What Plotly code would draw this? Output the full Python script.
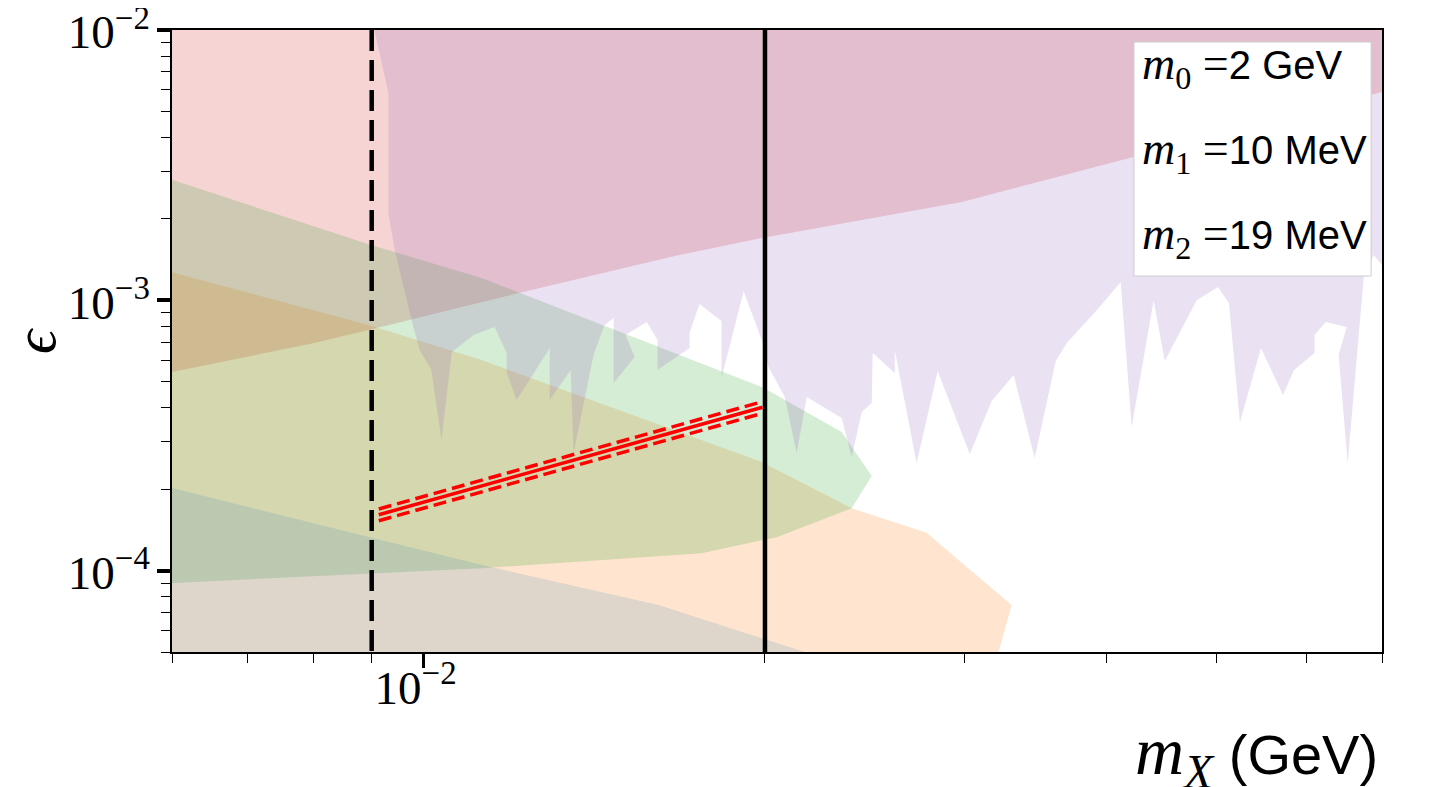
import math
import plotly.graph_objects as go

# ---------------- data (m_X in GeV, epsilon) ----------------
# red (pink) excluded region: lower boundary
red_x = [0.006, 0.00801, 0.00894, 0.01203, 0.01654, 0.01987, 0.02982, 0.04236, 0.07]
red_y = [5.43e-4, 6.95e-4, 7.77e-4, 1.055e-3, 1.45e-3, 1.70e-3, 2.31e-3, 3.39e-3, 5.90e-3]

# purple jagged region (closed outline)
purple_x = [0.00905, 0.00931, 0.00931, 0.00943, 0.00976, 0.00992, 0.01016, 0.01037, 0.01059, 0.01107,
            0.01155, 0.01184, 0.01184, 0.01208, 0.01292, 0.01292, 0.01348, 0.01356, 0.01412, 0.01444,
            0.01471, 0.01471, 0.01535, 0.01507, 0.01573, 0.01608, 0.01608, 0.01716, 0.01716, 0.01751,
            0.01831, 0.01831, 0.01915, 0.01987, 0.02015, 0.02082, 0.02133, 0.02177, 0.02337, 0.02385,
            0.02434, 0.02484, 0.02489, 0.02603, 0.02603, 0.02721, 0.02840, 0.03031, 0.03169, 0.03314,
            0.03458, 0.03609, 0.03691, 0.03938, 0.04118, 0.04211, 0.04403, 0.04503, 0.04805, 0.05017,
            0.05130, 0.05246, 0.05475, 0.05725, 0.05854, 0.06105, 0.06105, 0.06243, 0.06516, 0.06410,
            0.06529, 0.06744, 0.06883, 0.07, 0.07]
purple_y = [1e-2, 5.85e-3, 2.10e-3, 1.535e-3, 8.46e-4, 6.55e-4, 5.52e-4, 3.04e-4, 6.44e-4, 7.44e-4,
            7.97e-4, 6.38e-4, 5.38e-4, 4.28e-4, 6.66e-4, 4.28e-4, 5.52e-4, 2.72e-4, 6.28e-4, 8.10e-4,
            8.60e-4, 4.94e-4, 6.17e-4, 7.44e-4, 8.31e-4, 7.13e-4, 5.52e-4, 6.66e-4, 7.57e-4, 9.69e-4,
            8.39e-4, 5.16e-4, 1.08e-3, 7.13e-4, 5.67e-4, 4.39e-4, 2.72e-4, 4.39e-4, 3.67e-4, 2.63e-4,
            3.86e-4, 4.17e-4, 6.38e-4, 5.38e-4, 6.55e-4, 2.50e-4, 5.48e-4, 2.70e-4, 4.24e-4, 5.29e-4,
            2.61e-4, 5.96e-4, 6.95e-4, 9.37e-4, 1.17e-3, 3.40e-4, 1.00e-3, 5.96e-4, 1.00e-3, 1.12e-3,
            9.77e-4, 3.55e-4, 6.66e-4, 4.46e-4, 5.52e-4, 6.38e-4, 7.44e-4, 8.31e-4, 7.97e-4, 6.28e-4,
            2.50e-4, 1.21e-3, 1.47e-3, 1.35e-3, 1e-2]

# green lens-shaped region (upper edge left->right, lower edge right->left)
green_x = [0.006, 0.0090, 0.01125, 0.01474, 0.01987, 0.02337, 0.02484,
           0.02385, 0.02048, 0.01758, 0.01125, 0.006]
green_y = [2.79e-3, 1.60e-3, 1.21e-3, 7.77e-4, 4.78e-4, 3.26e-4, 2.24e-4,
           1.70e-4, 1.33e-4, 1.16e-4, 1.02e-4, 9.00e-5]

# orange region: upper boundary
orange_x = [0.006, 0.00894, 0.01125, 0.01987, 0.02385, 0.02777, 0.02982, 0.0330, 0.03214]
orange_y = [1.27e-3, 8.10e-4, 6.01e-4, 2.52e-4, 1.70e-4, 1.38e-4, 1.07e-4, 7.46e-5, 5.0e-5]

# bottom-left region: upper boundary
blue_x = [0.006, 0.0090, 0.01125, 0.01611, 0.02168]
blue_y = [2.02e-4, 1.33e-4, 1.05e-4, 7.46e-5, 5.0e-5]

# red prediction line with +-5% band
pred_x = [0.00913, 0.0199]
pred_y = [1.61e-4, 4.02e-4]
pred_hi = [1.69e-4, 4.22e-4]
pred_lo = [1.53e-4, 3.82e-4]

m_dashed = 0.009   # vertical dashed line
m_solid = 0.02     # vertical solid line

X_RANGE = [0.006, 0.07]
Y_RANGE = [5e-5, 1e-2]
FLOOR = 1e-5
CEIL = 2e-2

legend_lines = [("0", "2 GeV"), ("1", "10 MeV"), ("2", "19 MeV")]

# ---------------- figure ----------------
SERIF = "Liberation Serif, DejaVu Serif, serif"
SANS = "Liberation Sans, DejaVu Sans, sans-serif"

fig = go.Figure()


def region(xs, ys, color):
    fig.add_trace(go.Scatter(x=xs, y=ys, mode="lines", fill="toself", fillcolor=color,
                             line=dict(width=0, color=color), hoverinfo="skip", showlegend=False))


region(red_x + [X_RANGE[1], X_RANGE[0]], red_y + [CEIL, CEIL], "rgba(214,39,40,0.2)")
region(orange_x + [orange_x[-1], X_RANGE[0]], orange_y + [FLOOR, FLOOR], "rgba(255,127,14,0.2)")
region(green_x, green_y, "rgba(44,160,44,0.2)")
region(purple_x, purple_y, "rgba(148,103,189,0.2)")
region(blue_x + [blue_x[-1], X_RANGE[0]], blue_y + [FLOOR, FLOOR], "rgba(31,119,180,0.15)")

# vertical lines (drawn top -> bottom)
fig.add_trace(go.Scatter(x=[m_dashed, m_dashed], y=Y_RANGE[::-1], mode="lines",
                         line=dict(color="black", width=4.5, dash="21px,9px"),
                         hoverinfo="skip", showlegend=False))
fig.add_trace(go.Scatter(x=[m_solid, m_solid], y=Y_RANGE[::-1], mode="lines",
                         line=dict(color="black", width=4.5),
                         hoverinfo="skip", showlegend=False))

# red line and band
for ys, dash in ((pred_hi, "13px,6px"), (pred_lo, "13px,6px"), (pred_y, "solid")):
    fig.add_trace(go.Scatter(x=pred_x, y=ys, mode="lines",
                             line=dict(color="red", width=3.5, dash=dash),
                             hoverinfo="skip", showlegend=False))

x_minor = [0.006, 0.007, 0.008, 0.009, 0.02, 0.03, 0.04, 0.05, 0.06, 0.07]
y_minor = [m * 10 ** e for e in (-5, -4, -3) for m in range(2, 10) if 5e-5 <= m * 10 ** e < 1e-2]

axis_common = dict(
    type="log", showgrid=False, zeroline=False, showline=True, linecolor="black",
    linewidth=1.5, mirror=True, ticks="outside", tickcolor="black",
    ticklabeloverflow="allow", automargin=False,
    tickfont=dict(family=SERIF, size=47, color="black"),
)

fig.update_layout(
    width=1440, height=787,
    margin=dict(l=164, r=66, t=22, b=143),
    plot_bgcolor="white", paper_bgcolor="white",
    xaxis=dict(**axis_common,
               range=[math.log10(X_RANGE[0]), math.log10(X_RANGE[1])],
               tickvals=[0.01], ticktext=["10<sup>−2</sup>"], ticklen=14, tickwidth=3,
               ticklabelstandoff=-20, ticklabelshift=-8,
               minor=dict(tickvals=x_minor, ticks="outside", ticklen=9, tickwidth=1.2,
                          tickcolor="black", showgrid=False)),
    yaxis=dict(**axis_common,
               range=[math.log10(Y_RANGE[0]), math.log10(Y_RANGE[1])],
               tickvals=[1e-4, 1e-3, 1e-2],
               ticktext=["10<sup>−4</sup>", "10<sup>−3</sup>", "10<sup>−2</sup>"],
               ticklen=13, tickwidth=3.5, ticklabelstandoff=-2, ticklabelshift=2,
               minor=dict(tickvals=y_minor, ticks="outside", ticklen=9, tickwidth=1.2,
                          tickcolor="black", showgrid=False)),
)

# legend box (text only)
fig.add_shape(type="rect", xref="paper", yref="paper", x0=0.795, x1=0.991, y0=0.6045, y1=0.9807,
              fillcolor="white", line=dict(color="#cccccc", width=1), layer="above")
legend_y = [0.9405, 0.8039, 0.6672]
for (sub, val), yy in zip(legend_lines, legend_y):
    fig.add_annotation(
        xref="paper", yref="paper", x=0.8, y=yy, xanchor="left", yanchor="middle",
        showarrow=False,
        text=(f'<span style="font-family:Liberation Serif;font-size:46px"><i>m</i>'
              f'<sub>{sub}</sub> =</span>{val}'),
        font=dict(family=SANS, size=40, color="black"))

# axis titles
fig.add_annotation(xref="paper", yref="paper", x=-0.1132, y=0.50, xanchor="center", yanchor="middle",
                   textangle=-90, showarrow=False, text="<i>ϵ</i>",
                   font=dict(family=SERIF, size=60, color="black"))
fig.add_annotation(xref="paper", yref="paper", x=0.9983, y=-0.166, xanchor="right", yanchor="middle",
                   showarrow=False,
                   text=('<span style="font-family:Liberation Serif;font-size:68px"><i>m</i>'
                         '<sub><i>X</i></sub></span> (GeV)'),
                   font=dict(family=SANS, size=56, color="black"))

fig.write_html("out.html")
